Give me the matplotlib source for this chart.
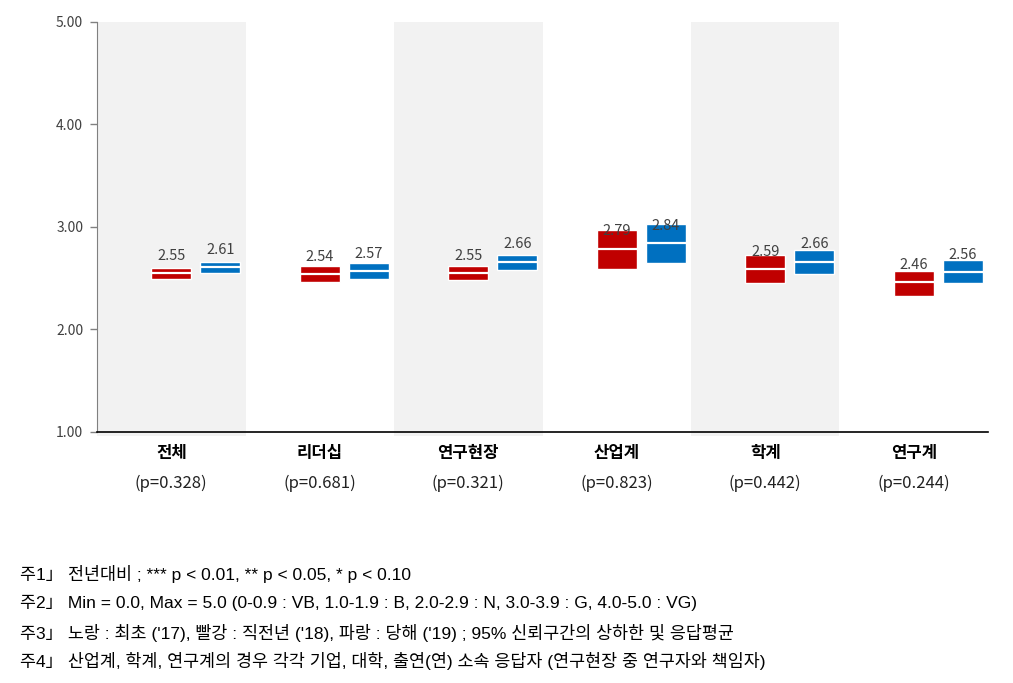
import matplotlib
matplotlib.use("Agg")
import matplotlib.pyplot as plt
from matplotlib.patches import Rectangle
import matplotlib.transforms as mtransforms

plt.rcParams['font.family'] = ['Noto Sans CJK KR', 'DejaVu Sans']

categories = ["전체", "리더십", "연구현장", "산업계", "학계", "연구계"]
p_values = ["(p=0.328)", "(p=0.681)", "(p=0.321)", "(p=0.823)", "(p=0.442)", "(p=0.244)"]

red_mean = [2.55, 2.54, 2.55, 2.79, 2.59, 2.46]
red_low = [2.49, 2.46, 2.48, 2.59, 2.45, 2.33]
red_high = [2.60, 2.62, 2.62, 2.97, 2.73, 2.57]

blue_mean = [2.61, 2.57, 2.66, 2.84, 2.66, 2.56]
blue_low = [2.55, 2.49, 2.58, 2.65, 2.54, 2.45]
blue_high = [2.66, 2.65, 2.73, 3.03, 2.78, 2.68]

yticks = [1.0, 2.0, 3.0, 4.0, 5.0]
notes = [
    "주1」 전년대비 ; *** p < 0.01, ** p < 0.05, * p < 0.10",
    "주2」 Min = 0.0, Max = 5.0 (0-0.9 : VB, 1.0-1.9 : B, 2.0-2.9 : N, 3.0-3.9 : G, 4.0-5.0 : VG)",
    "주3」 노랑 : 최초 ('17), 빨강 : 직전년 ('18), 파랑 : 당해 ('19) ; 95% 신뢰구간의 상하한 및 응답평균",
    "주4」 산업계, 학계, 연구계의 경우 각각 기업, 대학, 출연(연) 소속 응답자 (연구현장 중 연구자와 책임자)",
]

RED = "#C00000"
BLUE = "#0070C0"
TXT = "#404040"

fig = plt.figure(figsize=(10.13, 6.83), dpi=100)
ax = fig.add_axes([0.0958, 0.3675, 0.8795, 0.6003])
ax.set_xlim(-0.5, len(categories) - 0.5)
ax.set_ylim(1, 5)

for i in range(len(categories)):
    if i % 2 == 0:
        ax.axvspan(i - 0.5, i + 0.5, ymin=-0.01, ymax=1, color="#F2F2F2",
                   zorder=0, lw=0, clip_on=False)

w = 0.27
off = 0.33
series = [(0.0, red_low, red_high, red_mean, RED), (off, blue_low, blue_high, blue_mean, BLUE)]
for dx, lo, hi, mn, col in series:
    for i in range(len(categories)):
        x0 = i + dx - w / 2
        ax.add_patch(Rectangle((x0, lo[i]), w, hi[i] - lo[i], facecolor=col,
                               edgecolor="white", lw=1.0, zorder=3))
        ax.plot([x0, x0 + w], [mn[i], mn[i]], color="white", lw=1.6, zorder=4,
                solid_capstyle="butt")
        ax.annotate(f"{mn[i]:.2f}", (i + dx, mn[i]), xytext=(0, 12.5),
                    textcoords="offset points", ha="center", va="center",
                    fontsize=10.5, color=TXT, zorder=5)

ax.set_yticks(yticks)
ax.set_yticklabels([f"{v:.2f}" for v in yticks], fontsize=10, color=TXT)
ax.set_xticks([])
ax.tick_params(axis="y", direction="out", length=5, width=1, color="#808080", pad=5)
for s in ["top", "right"]:
    ax.spines[s].set_visible(False)
ax.spines["left"].set_color("#808080")
ax.spines["bottom"].set_color("black")
ax.spines["bottom"].set_linewidth(1.2)
ax.spines["bottom"].set_zorder(5)

trans = mtransforms.blended_transform_factory(ax.transData, ax.transAxes)
for i, (c, p) in enumerate(zip(categories, p_values)):
    ax.annotate(c, (i, 0), xycoords=trans, xytext=(0, -15), textcoords="offset points",
                ha="center", va="center", fontsize=12, fontweight="bold", color="black")
    ax.annotate(p, (i, 0), xycoords=trans, xytext=(0, -37), textcoords="offset points",
                ha="center", va="center", fontsize=12, color="#222222")

ys = [574, 603, 633, 661]
for t, y in zip(notes, ys):
    fig.text(20 / 1013, 1 - y / 683, t, ha="left", va="center", fontsize=12.5,
             color="black", family=["Liberation Sans", "Noto Sans CJK KR"])

fig.savefig("out.png", dpi=100)
